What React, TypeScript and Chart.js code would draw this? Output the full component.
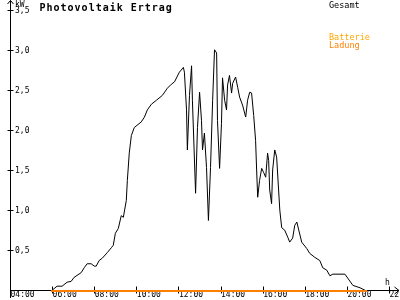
import React, { useEffect, useRef } from "react";
import { Chart, registerables } from "chart.js";

Chart.register(...registerables);

const TITLE = "Photovoltaik Ertrag";
const Y_UNIT = "kW";
const X_UNIT = "h";
const LEGEND_TOTAL = "Gesamt";
const LEGEND_BATTERY = ["Batterie", "Ladung"];

const X_MIN = 4;
const X_MAX = 22;
const X_STEP = 2;
const Y_MIN = 0;
const Y_MAX = 3.5;
const Y_STEP = 0.5;

// Gesamt (hours of day, kW)
const gesamtHours = [
  5.93, 5.98, 6.21, 6.45, 6.69, 6.88, 7.02, 7.36, 7.5, 7.64, 7.83, 7.98, 8.07, 8.21, 8.36, 8.6,
  8.79, 8.88, 8.98, 9.12, 9.26, 9.36, 9.5, 9.55, 9.64, 9.74, 9.88, 10.21, 10.36, 10.5, 10.69,
  10.93, 11.21, 11.45, 11.64, 11.79, 12.02, 12.21, 12.26, 12.36, 12.4, 12.5, 12.6, 12.64, 12.79,
  12.88, 12.98, 13.07, 13.12, 13.21, 13.31, 13.4, 13.5, 13.6, 13.69, 13.79, 13.83, 13.93, 14.02,
  14.07, 14.17, 14.26, 14.31, 14.4, 14.5, 14.55, 14.69, 14.79, 14.88, 15.02, 15.17, 15.26, 15.36,
  15.45, 15.55, 15.64, 15.69, 15.74, 15.83, 15.93, 16.02, 16.12, 16.21, 16.26, 16.31, 16.4, 16.45,
  16.55, 16.64, 16.79, 16.88, 17.02, 17.17, 17.26, 17.4, 17.5, 17.6, 17.69, 17.83, 18.07, 18.21,
  18.45, 18.69, 18.83, 19.02, 19.17, 19.31, 19.88, 20.02, 20.26, 20.6, 20.83, 20.93,
];
const gesamtKW = [
  0, 0.01, 0.06, 0.06, 0.11, 0.12, 0.17, 0.23, 0.29, 0.34, 0.34, 0.31, 0.31, 0.38, 0.41, 0.48,
  0.54, 0.57, 0.72, 0.78, 0.94, 0.92, 1.13, 1.38, 1.72, 1.94, 2.04, 2.11, 2.17, 2.26, 2.33,
  2.38, 2.44, 2.53, 2.58, 2.61, 2.73, 2.79, 2.73, 2.26, 1.76, 2.44, 2.81, 2.38, 1.22,
  2.04, 2.48, 2.13, 1.76, 1.97, 1.54, 0.88, 1.54, 2.38, 3.01, 2.97, 2.13, 1.53, 2.09,
  2.66, 2.38, 2.26, 2.57, 2.69, 2.47, 2.59, 2.67, 2.54, 2.42, 2.32, 2.17, 2.38, 2.48,
  2.47, 2.19, 1.88, 1.51, 1.17, 1.38, 1.53, 1.48, 1.42, 1.72, 1.63, 1.26, 1.09, 1.51,
  1.76, 1.67, 1.01, 0.79, 0.76, 0.67, 0.61, 0.66, 0.82, 0.86, 0.76, 0.61, 0.53, 0.47,
  0.42, 0.38, 0.29, 0.26, 0.19, 0.21, 0.21, 0.16, 0.07, 0.04, 0.01, 0,
];

// Batterie Ladung (hours of day, kW)
const ladungHours = [5.93, 20.93];
const ladungKW = [0, 0];

const MONO = "'DejaVu Sans Mono', monospace";
const ORANGE = "#ff8000";
const ORANGE_LIGHT = "#ffa500";

const pad2 = (n: number) => String(n).padStart(2, "0");

const decor = {
  id: "decor",
  beforeDatasetsDraw(chart: any) {
    const { ctx, scales } = chart;
    const xs = scales.x;
    const ys = scales.y;
    const ax = xs.getPixelForValue(X_MIN);
    const ay = ys.getPixelForValue(0) - 0.5;
    ctx.save();
    ctx.strokeStyle = "#000";
    ctx.lineWidth = 1;
    ctx.beginPath();
    // y axis with arrow
    ctx.moveTo(ax, 0.5);
    ctx.lineTo(ax, 298);
    ctx.moveTo(ax - 3, 4);
    ctx.lineTo(ax, 0.5);
    ctx.lineTo(ax + 3, 4);
    // x axis with arrow
    ctx.moveTo(ax, ay);
    ctx.lineTo(399, ay);
    ctx.moveTo(394.5, ay - 3.5);
    ctx.lineTo(399, ay);
    ctx.lineTo(394.5, ay + 3.5);
    // tick marks
    xs.ticks.forEach((t: any) => {
      const px = Math.floor(xs.getPixelForValue(t.value)) + 0.5;
      ctx.moveTo(px, ay - 4);
      ctx.lineTo(px, ay + 3);
    });
    ys.ticks.forEach((t: any) => {
      if (t.value === 0) return;
      const py = Math.floor(ys.getPixelForValue(t.value)) + 0.5;
      ctx.moveTo(ax - 3, py);
      ctx.lineTo(ax + 3, py);
    });
    ctx.stroke();
    ctx.restore();
  },
  afterDraw(chart: any) {
    const { ctx } = chart;
    ctx.save();
    ctx.textBaseline = "alphabetic";
    ctx.textAlign = "left";
    ctx.fillStyle = "#000";
    ctx.font = `bold 10px ${MONO}`;
    (ctx as any).letterSpacing = "1px";
    ctx.fillText(TITLE, 39.5, 11);
    (ctx as any).letterSpacing = "0px";
    ctx.font = `8px ${MONO}`;
    ctx.fillText(Y_UNIT, 15, 7);
    ctx.fillText(X_UNIT, 385, 284.5);
    ctx.font = `8.5px ${MONO}`;
    ctx.fillText(LEGEND_TOTAL, 329, 7.5);
    ctx.fillStyle = ORANGE_LIGHT;
    ctx.fillText(LEGEND_BATTERY[0], 329, 39.5);
    ctx.fillStyle = ORANGE;
    ctx.fillText(LEGEND_BATTERY[1], 329, 47.5);
    ctx.restore();
  },
};

export default function App() {
  const ref = useRef<HTMLCanvasElement | null>(null);
  useEffect(() => {
    if (!ref.current) return;
    const chart = new Chart(ref.current, {
      type: "line",
      data: {
        datasets: [
          {
            label: "Batterie Ladung",
            data: ladungHours.map((h, i) => ({ x: h, y: ladungKW[i] })),
            borderColor: ORANGE,
            borderWidth: 2,
            pointRadius: 0,
            tension: 0,
            order: 0,
            clip: false as any,
          },
          {
            label: "Gesamt",
            data: gesamtHours.map((h, i) => ({ x: h, y: gesamtKW[i] })),
            borderColor: "#000",
            borderWidth: 1,
            pointRadius: 0,
            tension: 0,
            order: 1,
            clip: false as any,
          },
        ],
      },
      options: {
        animation: false,
        responsive: false,
        events: [],
        layout: { padding: { left: 10.5, right: 10.5, top: 10.5, bottom: 0 } },
        plugins: { legend: { display: false }, tooltip: { enabled: false }, title: { display: false } },
        scales: {
          x: {
            type: "linear",
            min: X_MIN,
            max: X_MAX,
            grid: { display: false, drawTicks: false },
            border: { display: false },
            ticks: {
              stepSize: X_STEP,
              autoSkip: false,
              maxRotation: 0,
              align: "start",
              padding: 0,
              color: "#000",
              font: { family: MONO, size: 8, lineHeight: 1 },
              callback: (v: any) => `${pad2(Number(v))}:00`,
            },
            afterFit: (s: any) => {
              s.height = 9;
              s.paddingLeft = 0;
              s.paddingRight = 0;
            },
          },
          y: {
            type: "linear",
            min: Y_MIN,
            max: Y_MAX,
            grid: { display: false, drawTicks: false },
            border: { display: false },
            ticks: {
              stepSize: Y_STEP,
              mirror: true,
              padding: 4.5,
              color: "#000",
              font: { family: MONO, size: 8, lineHeight: 1 },
              callback: (v: any) => (Number(v) === 0 ? "" : Number(v).toFixed(1).replace(".", ",")),
            },
            afterFit: (s: any) => {
              s.width = 0;
              s.paddingTop = 0;
              s.paddingBottom = 0;
            },
          },
        },
      },
      plugins: [decor],
    });
    return () => chart.destroy();
  }, []);
  return (
    <div style={{ position: "absolute", left: 0, top: 0, width: 400, height: 300, background: "#fff" }}>
      <canvas ref={ref} width={400} height={300} style={{ display: "block" }} />
    </div>
  );
}
